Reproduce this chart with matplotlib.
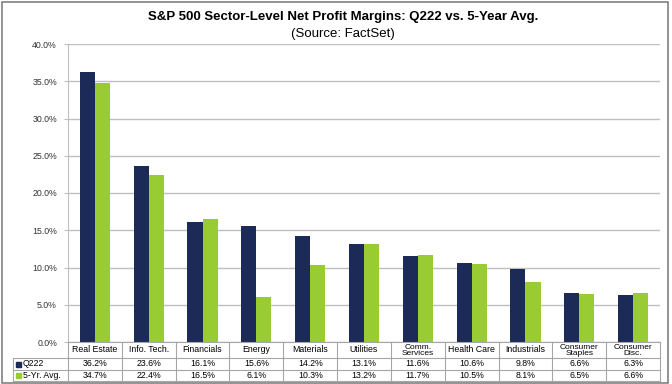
import matplotlib
matplotlib.use("Agg")
import matplotlib.pyplot as plt
import numpy as np
from matplotlib.lines import Line2D
from matplotlib.patches import Rectangle

categories = ["Real Estate", "Info. Tech.", "Financials", "Energy", "Materials", "Utilities",
              "Comm.\nServices", "Health Care", "Industrials", "Consumer\nStaples", "Consumer\nDisc."]
q222 = [36.2, 23.6, 16.1, 15.6, 14.2, 13.1, 11.6, 10.6, 9.8, 6.6, 6.3]
avg5 = [34.7, 22.4, 16.5, 6.1, 10.3, 13.2, 11.7, 10.5, 8.1, 6.5, 6.6]
series_names = ["Q222", "5-Yr. Avg."]
yticks = [0, 5, 10, 15, 20, 25, 30, 35, 40]

NAVY = "#1B2A57"
GREEN = "#99CC33"
GRID = "#BFBFBF"
plt.rcParams['font.family'] = ['Liberation Sans', 'DejaVu Sans']

W, H = 672, 384
fig = plt.figure(figsize=(W / 100, H / 100), dpi=100)

# outer border
fig.add_artist(Rectangle((2 / W, 1.5 / H), 666 / W, 381 / H, transform=fig.transFigure,
                         fill=False, edgecolor="#808080", linewidth=1.2))

x0, x1, ytop, ybot = 68, 660, 44, 342
ax = fig.add_axes([x0 / W, 1 - ybot / H, (x1 - x0) / W, (ybot - ytop) / H])
n = len(categories)
x = np.arange(n)
bw = 0.28
ax.bar(x - bw / 2, q222, bw, color=NAVY, zorder=3)
ax.bar(x + bw / 2, avg5, bw, color=GREEN, zorder=3)
ax.set_xlim(-0.5, n - 0.5)
ax.set_ylim(0, 40)
ax.set_yticks(yticks)
ax.set_yticklabels([f"{v:.1f}%" for v in yticks], fontsize=6.3, color="#333333")
ax.yaxis.grid(True, color=GRID, linewidth=1, zorder=0)
ax.set_xticks([])
for s in ["top", "right", "bottom"]:
    ax.spines[s].set_visible(False)
ax.spines["left"].set_color(GRID)
ax.tick_params(axis="y", length=3, color=GRID, pad=5)

fig.text(343 / W, 1 - 17 / H, "S&P 500 Sector-Level Net Profit Margins: Q222 vs. 5-Year Avg.",
         ha="center", va="center", fontsize=9.5, fontweight="bold")
fig.text(343 / W, 1 - 34 / H, "(Source: FactSet)", ha="center", va="center", fontsize=9.5)

# data table below the axes
tab = fig.add_axes([0, 0, 1, 1], zorder=5)
tab.set_xlim(0, W)
tab.set_ylim(H, 0)
tab.axis("off")
colw = (x1 - x0) / n
rows_y = [342, 358, 370, 381]
lab_x0 = 13
lc = "#A6A6A6"
fs = 6.3
# horizontal lines
tab.add_line(Line2D([x0, x1], [rows_y[0], rows_y[0]], color=lc, lw=0.8))
for yy in rows_y[1:]:
    tab.add_line(Line2D([lab_x0, x1], [yy, yy], color=lc, lw=0.8))
# vertical lines
for i in range(n + 1):
    xx = x0 + i * colw
    tab.add_line(Line2D([xx, xx], [rows_y[0], rows_y[3]], color=lc, lw=0.8))
tab.add_line(Line2D([lab_x0, lab_x0], [rows_y[1], rows_y[3]], color=lc, lw=0.8))

for i, c in enumerate(categories):
    cx = x0 + (i + 0.5) * colw
    two = "\n" in c
    tab.text(cx, 350.6 if two else 350.0, c, ha="center", va="center",
             fontsize=6.0 if two else fs, linespacing=0.78)
    tab.text(cx, (rows_y[1] + rows_y[2]) / 2, f"{q222[i]:.1f}%", ha="center", va="center", fontsize=fs)
    tab.text(cx, (rows_y[2] + rows_y[3]) / 2, f"{avg5[i]:.1f}%", ha="center", va="center", fontsize=fs)

for r, (name, col) in enumerate(zip(series_names, [NAVY, GREEN])):
    yc = (rows_y[r + 1] + rows_y[r + 2]) / 2
    tab.add_patch(Rectangle((lab_x0 + 3, yc - 2.5), 5, 5, color=col))
    tab.text(lab_x0 + 10, yc, name, ha="left", va="center", fontsize=fs)

fig.savefig("out.png", dpi=100)
